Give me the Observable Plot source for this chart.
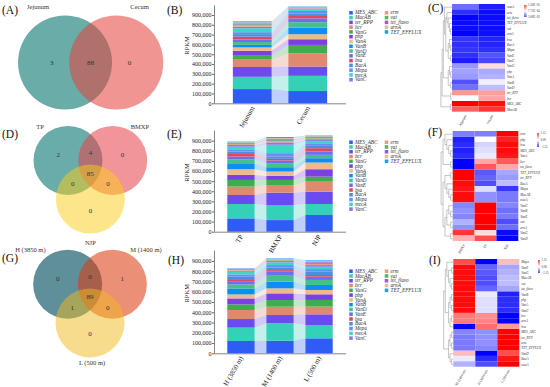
<!DOCTYPE html>
<html><head><meta charset="utf-8">
<script src="https://cdn.jsdelivr.net/npm/d3@7"></script>
<script src="https://cdn.jsdelivr.net/npm/@observablehq/plot@0.6"></script>
<style>
html,body{margin:0;padding:0;background:#fff;}
#fig{position:relative;width:550px;height:387px;overflow:hidden;font-family:'Liberation Serif','Times New Roman',Times,serif;background:#fff;}
.pane{position:absolute;}
.pane svg{overflow:visible;display:block;}
.letter{position:absolute;font-size:11.5px;line-height:1;color:#111;white-space:nowrap;}
</style></head><body><div id="fig"></div><script>
const SERIF = "'Liberation Serif','Times New Roman',Times,serif";

// ---------- data ----------
const genes = ["MES_ABC","MacAB","ter_RPP","bcr","VanG","pbp","VanA","VanB","VanD","VanE","bsa","BacA","Mepa","mecA","VanC","erm","vat","tet_flavo","arnA","TET_EFFLUX"];
const geneColors = ["#2F5CF5","#34D1B8","#6A4BEF","#E0896F","#3DAE4B","#7B3FE4","#EFB98C","#0C8EF2","#45C08A","#6A70EE","#DF4861","#4B8FE0","#6A8CF5","#3ED6C5","#8876EE","#EE9B83","#52B560","#9A58E6","#E8BE93","#1E9FF2"];

// (A) Venn
const vennA_sets = ["Jejunum","Cecum"];
const vennA_counts = {"10":3, "11":88, "01":0};
// (D) Venn
const vennD_sets = ["TP","BMXP","NJP"];
const vennD_counts = {"100":2, "110":4, "010":0, "111":85, "101":0, "011":0, "001":0};
// (G) Venn
const vennG_sets = ["H (3850 m)","M (1400 m)","L (500 m)"];
const vennG_counts = {"100":0, "110":0, "010":1, "111":89, "101":1, "011":0, "001":0};

// (B) stacked RPKM
const samplesB = ["Jejunum","Cecum"];
const rpkmJejunum = [145000,125000,100000,75000,40000,50000,35000,25000,30000,25000,30000,25000,20000,40000,15000,15000,10000,10000,10000,10000];
const rpkmCecum   = [125000,155000,95000,135000,85000,58000,51000,68000,54000,40000,24000,27000,24000,17000,8000,5000,4000,4000,3000,4000];
// (E)
const samplesE = ["TP","BMXP","NJP"];
const rpkmTP   = [132000,142000,89000,83000,66000,50000,56000,59000,40000,26000,26000,23000,23000,26000,17000,8000,6000,6000,6000,7000];
const rpkmBMXP = [115000,149000,122000,76000,50000,40000,43000,43000,40000,26000,17000,23000,33000,83000,23000,12000,10000,10000,10000,11000];
const rpkmNJP  = [165000,109000,122000,99000,50000,73000,66000,43000,33000,33000,33000,23000,26000,23000,17000,8000,7000,7000,7000,7000];
// (H)
const samplesH = ["H (3850 m)","M (1400 m)","L (500 m)"];
const rpkmH = [120000,130000,84000,88000,55000,58000,39000,58000,39000,26000,26000,23000,23000,26000,10000,6000,5000,5000,5000,4000];
const rpkmM = [123000,169000,81000,81000,65000,65000,49000,65000,58000,39000,16000,26000,23000,26000,13000,6000,5000,5000,6000,5000];
const rpkmL = [146000,130000,104000,75000,65000,55000,42000,49000,49000,32000,16000,32000,26000,23000,16000,10000,9000,9000,9000,9000];

// (C) heatmap (RPKM), gene order as `genes`
const heatC_columns = ["Jejunum","Cecum"];
const heatC_Jejunum = [150000,123000,107000,78000,48000,51000,49000,28000,37000,18000,20000,19000,20000,36000,13000,18000,8000,6000,5000,8000];
const heatC_Cecum   = [146000,135000,105000,103000,88000,53000,56000,73000,59000,29000,15000,15000,18000,14000,25000,8000,8000,8000,9000,9000];
const dendroC = [[[["mecA",[["erm",["tet_flavo",["TET_EFFLUX",["vat","arnA"]]]],[["bsa",["BacA","Mepa"]],["VanE","VanC"]]]],[["VanG",["pbp","VanA"]],["VanB","VanD"]]],["ter_RPP","bcr"]],["MES_ABC","MacAB"]];

// (F) heatmap (row z-score)
const heatF_columns = ["BMXP","TP","NJP"];
const heatF_BMXP = [-1.0,1.1,1.15,-1.15,0.9,-1.0,-0.95,-0.5,0.35,-0.55,-0.95,1.1,1.05,1.1,-0.55,-0.58,-0.35,-1.15,-0.5,1.15];
const heatF_TP   = [-0.15,-0.5,-0.7,0.4,0.15,0.0,-0.1,1.15,0.8,1.15,-0.2,-0.8,-0.15,-0.5,1.15,-0.58,1.15,0.75,1.15,-0.75];
const heatF_NJP  = [1.1,-0.6,-0.45,0.75,-1.1,1.0,1.05,-0.65,-1.15,-0.6,1.1,-0.3,-0.9,-0.6,-0.55,1.15,-0.8,0.4,-0.65,-0.4];
const dendroF = [[["erm",["pbp",["bsa",["MES_ABC","VanA"]]]],["bcr","tet_flavo"]],[[["TET_EFFLUX","ter_RPP"],["BacA",["Mepa",["MacAB","mecA"]]]],[[["VanC",["VanB","VanE"]],["vat","arnA"]],["VanG","VanD"]]]];

// (I) heatmap (row z-score)
const heatI_columns = ["M (1400 m)","H (3850 m)","L (500 m)"];
const heatI_M = [-0.55,1.1,-0.6,0.6,1.1,1.1,1.1,1.1,0.3,1.1,-1.15,-0.1,0.8,-0.35,1.1,-0.6,1.1,1.1,0.6,-0.6];
const heatI_H = [-0.5,-0.8,-0.5,0.5,-0.75,-0.15,-0.15,-0.1,-1.15,-0.7,0.65,-0.95,-1.15,-0.8,-0.15,-0.5,-0.8,-0.7,0.55,-0.55];
const heatI_L = [1.15,-0.3,1.15,-1.15,-0.35,-0.95,-0.95,-1.0,0.8,-0.4,0.45,1.05,0.3,1.15,-0.95,1.15,-0.3,-0.4,-1.15,1.15];
const dendroI = [[["Mepa",[["VanE","VanG"],["MacAB",["vat","tet_flavo"]]]],[[["VanB","pbp"],["VanA","VanC"]],[["bcr","arnA"],"bsa"]]],[[["MES_ABC","ter_RPP"],["erm","TET_EFFLUX"]],["VanD",["BacA","mecA"]]]];

const zLabels = [1.15, 0, -1.15];

// ---------- helpers ----------
const fig = document.getElementById("fig");
function place(node, left, top, w) {
  const d = document.createElement("div");
  d.className = "pane";
  d.style.left = left + "px"; d.style.top = top + "px";
  if (w) d.style.width = w + "px";
  d.appendChild(node); fig.appendChild(d);
}
function letter(t, left, top) {
  const d = document.createElement("div");
  d.className = "letter"; d.textContent = t;
  d.style.left = left + "px"; d.style.top = top + "px";
  fig.appendChild(d);
}
const baseStyle = {fontFamily: SERIF, background: "transparent", overflow: "visible", color: "#222"};

// ---------- Venn ----------
function vennPanel(o) {
  const n = o.sets.length;
  const centers = n === 2 ? [[-o.d, 0], [o.d, 0]]
    : [210, 330, 90].map(a => [o.d * Math.cos(a * Math.PI / 180), o.d * Math.sin(a * Math.PI / 180)]);
  const acc = new Map();
  for (let x = -2.2; x <= 2.2; x += 0.015) for (let y = -2.2; y <= 2.2; y += 0.015) {
    const key = centers.map(([cx, cy]) => ((x - cx) ** 2 + (y - cy) ** 2 <= 1 ? "1" : "0")).join("");
    if (!key.includes("1")) continue;
    const a = acc.get(key) || {sx: 0, sy: 0, n: 0};
    a.sx += x; a.sy += y; a.n++; acc.set(key, a);
  }
  const regions = Object.entries(o.counts).map(([k, v]) => {
    const a = acc.get(k); return {x: a.sx / a.n, y: a.sy / a.n, v};
  });
  const marks = [];
  o.sets.forEach((s, i) => {
    marks.push(Plot.dot([s], {x: () => centers[i][0], y: () => centers[i][1], r: o.r, fill: o.colors[i], fillOpacity: o.opac[i], stroke: "none"}));
  });
  marks.push(Plot.text(regions, {x: "x", y: "y", text: d => String(d.v), fontSize: 7, fill: "#333"}));
  o.sets.forEach((s, i) => {
    const [ox, oy, anchor] = o.labelOff[i];
    marks.push(Plot.text([s], {x: () => centers[i][0] + ox, y: () => centers[i][1] + oy, text: d => d, textAnchor: anchor, fontSize: 6.5, fill: "#333"}));
  });
  const p = Plot.plot({
    width: o.width, height: o.height, margin: 0,
    x: {domain: [(0 - o.cx) / o.r, (o.width - o.cx) / o.r], range: [0, o.width], axis: null},
    y: {domain: [(0 - o.cy) / o.r, (o.height - o.cy) / o.r], range: [0, o.height], axis: null},
    style: baseStyle,
    marks
  });
  place(p, o.left, o.top, o.width);
}

// ---------- stacked bars with flows ----------
function barPanel(samples, series, left, top, height, y0px, y1Mpx) {
  const width = 180, mL = 44, mR = 4;
  const n = samples.length, pad = 0.69, half = 0.35;
  const stacks = series.map(vals => { let c = 0; return vals.map(v => { const lo = c; c += v; return [lo, c]; }); });
  const rows = [], flows = [];
  samples.forEach((s, i) => genes.forEach((g, k) => rows.push({i, gene: g, lo: stacks[i][k][0], hi: stacks[i][k][1]})));
  for (let i = 0; i < n - 1; i++) genes.forEach((g, k) => {
    const id = g + "-" + i;
    flows.push({id, gene: g, x: i + half, lo: stacks[i][k][0], hi: stacks[i][k][1]});
    flows.push({id, gene: g, x: i + 1 - half, lo: stacks[i + 1][k][0], hi: stacks[i + 1][k][1]});
  });
  const x0 = -pad, x1 = n - 1 + pad;
  const p = Plot.plot({
    width, height, marginLeft: mL, marginRight: mR, marginTop: y1Mpx - top, marginBottom: top + height - y0px,
    x: {domain: [x0, x1], axis: null},
    y: {domain: [0, 1e6], axis: null},
    color: {domain: genes, range: geneColors},
    style: baseStyle,
    marks: [
      Plot.area(flows, {x1: "x", y1: "lo", y2: "hi", z: "id", fill: "gene", fillOpacity: 0.3}),
      Plot.rect(rows, {x1: d => d.i - half, x2: d => d.i + half, y1: "lo", y2: "hi", fill: "gene"}),
      Plot.ruleY([0], {x1: x0, x2: x1, stroke: "#666", strokeWidth: 0.8}),
      Plot.ruleX([x0], {y1: 0, y2: 1e6, stroke: "#666", strokeWidth: 0.8}),
      Plot.axisY({ticks: d3.range(0, 950000, 100000), tickFormat: d3.format(","), tickSize: 2, tickPadding: 1, fontSize: 6, label: null, stroke: "#666"}),
      Plot.axisX({ticks: d3.range(n), tickFormat: i => samples[i], tickRotate: -60, tickSize: 0, tickPadding: 3, fontSize: 7, label: null}),
      Plot.text(["RPKM"], {frameAnchor: "left", rotate: -90, dx: -28, fontSize: 6.5, fill: "#222"})
    ]
  });
  place(p, left, top, width);
}

// ---------- bar legend ----------
function legendPanel(left, top, firstRowY) {
  const items = genes.map((g, k) => ({g, col: k < 15 ? 0 : 1, row: k < 15 ? k : k - 15}));
  const p = Plot.plot({
    width: 80, height: 85, margin: 0,
    x: {domain: [0, 1], range: [5.5, 41], axis: null},
    y: {domain: [0, 14], range: [firstRowY - top, firstRowY - top + 14 * 4.78], axis: null},
    color: {domain: genes, range: geneColors},
    style: baseStyle,
    marks: [
      Plot.dot(items, {x: "col", y: "row", symbol: "square", r: 2, fill: "g"}),
      Plot.text(items, {x: "col", y: "row", text: "g", dx: 4, textAnchor: "start", fontSize: 5.2, fontStyle: "italic", fill: "#333"})
    ]
  });
  place(p, left, top, 80);
}

// ---------- heatmaps ----------
function leaves(t) { return typeof t === "string" ? [t] : t.flatMap(leaves); }
function heatColor(domain) {
  return {type: "linear", domain, range: ["#0000ff", "#ffffff", "#ff0000"], clamp: true};
}
function heatPanel(o) {
  const order = leaves(o.tree);
  const rowOf = new Map(order.map((g, i) => [g, i]));
  const nc = o.columns.length, nr = order.length;
  const cells = [];
  o.columns.forEach((c, j) => genes.forEach((g, k) => cells.push({col: j, row: rowOf.get(g), v: o.values[j][k]})));
  const colW = (o.cellR - o.cellL) / nc;
  const span = o.dendroPx / colW, gap = 0.6 / colW;
  const links = [];
  function walk(t) {
    if (typeof t === "string") return {y: rowOf.get(t) + 0.5, h: 0};
    const kids = t.map(walk);
    const node = {y: (kids[0].y + kids[kids.length - 1].y) / 2, h: 1 + d3.max(kids, k => k.h)};
    kids.forEach(k => links.push({p: node, c: k}));
    return node;
  }
  const root = walk(o.tree);
  const H = root.h;
  const hx = h => -gap - span * h / H;
  const p = Plot.plot({
    width: o.width, height: o.height,
    marginLeft: o.cellL - o.left, marginRight: o.left + o.width - o.cellR,
    marginTop: o.cellT - o.top, marginBottom: o.top + o.height - o.cellB,
    x: {domain: [0, nc], axis: null},
    y: {domain: [0, nr], reverse: true, axis: null},
    color: heatColor(o.domain),
    style: baseStyle,
    marks: [
      Plot.rect(cells, {x1: "col", x2: d => d.col + 1, y1: "row", y2: d => d.row + 1, fill: "v"}),
      Plot.link(links, {x1: d => hx(d.p.h), y1: d => d.p.y, x2: d => hx(d.c.h), y2: d => d.c.y, curve: "step-before", stroke: "#8c8c8c", strokeWidth: 0.5}),
      Plot.text(order, {x: () => nc, y: (d, i) => i + 0.5, text: d => d, textAnchor: "start", dx: 1.5, fontSize: 3.3, fontStyle: "italic", fill: "#333"}),
      Plot.text(o.columns, {x: (d, i) => i + 0.5, y: () => nr, text: d => d, rotate: -60, textAnchor: "end", dy: 3, fontSize: 3.6, fill: "#333"})
    ]
  });
  place(p, o.left, o.top, o.width);
}
function colorLegend(o) {
  const [lo, mid, hi] = o.domain;
  const N = 40, step = (hi - lo) / N;
  const steps = d3.range(N).map(i => lo + step * i);
  const p = Plot.plot({
    width: o.w, height: o.h, marginLeft: 0, marginRight: o.w - o.barW, marginTop: 1, marginBottom: 1,
    x: {domain: [0, 1], axis: null},
    y: {domain: [lo, hi], axis: null},
    color: heatColor(o.domain),
    style: baseStyle,
    marks: [
      Plot.rect(steps, {x1: () => 0, x2: () => 1, y1: d => d, y2: d => d + step, fill: d => d + step / 2}),
      Plot.text(o.labels, {x: () => 1, y: d => d, text: o.fmt, dx: 1, textAnchor: "start", fontSize: 3, fill: "#333"})
    ]
  });
  place(p, o.left, o.top, o.w);
}
function expFmt(v) {
  const [m, e] = v.toExponential(2).split("e");
  const sign = e[0] === "-" ? "-" : "+";
  return m + "E" + sign + e.replace(/[+-]/, "").padStart(2, "0");
}

// ---------- build ----------
vennPanel({left: 0, top: 0, width: 165, height: 125, cx: 90.15, cy: 62, r: 47, d: 0.545,
  sets: vennA_sets, colors: ["#6aaca8", "#e5453e"], opac: [1, 0.57], counts: vennA_counts,
  labelOff: [[-0.34, -1.19, "end"], [0.30, -1.19, "start"]]});
vennPanel({left: 0, top: 125, width: 165, height: 121, cx: 89.85, cy: 47.8, r: 34.5, d: 0.748,
  sets: vennD_sets, colors: ["#6aaca9", "#e8454c", "#fbcd15"], opac: [1, 0.57, 0.5], counts: vennD_counts,
  labelOff: [[-0.70, -0.98, "end"], [0.52, -0.98, "start"], [0, 1.28, "middle"]]});
vennPanel({left: 0, top: 246, width: 165, height: 141, cx: 89.5, cy: 50.6, r: 34.5, d: 0.748,
  sets: vennG_sets, colors: ["#5f8f99", "#dc3a10", "#efb91d"], opac: [1, 0.57, 0.5], counts: vennG_counts,
  labelOff: [[-0.64, -1.0, "end"], [0.52, -1.0, "start"], [0.06, 1.17, "middle"]]});

barPanel(samplesB, [rpkmJejunum, rpkmCecum], 170, 0, 130, 103.3, 5.2);
barPanel(samplesE, [rpkmTP, rpkmBMXP, rpkmNJP], 170, 125, 130, 231.7, 130.6);
barPanel(samplesH, [rpkmH, rpkmM, rpkmL], 170, 246, 141, 353.3, 250.7);

legendPanel(345, 0, 12.3);
legendPanel(345, 125, 141.7);
legendPanel(345, 246, 270.7);

const allC = heatC_Jejunum.concat(heatC_Cecum);
const loC = d3.min(allC), hiC = d3.max(allC);
const domC = [loC, (loC + hiC) / 2, hiC];
heatPanel({left: 420, top: 0, width: 130, height: 129, cellL: 452, cellR: 505, cellT: 4, cellB: 111.7, dendroPx: 11,
  columns: heatC_columns, values: [heatC_Jejunum, heatC_Cecum], tree: dendroC, domain: domC});
heatPanel({left: 420, top: 127, width: 130, height: 128, cellL: 452.7, cellR: 518.3, cellT: 131, cellB: 241, dendroPx: 11.5,
  columns: heatF_columns, values: [heatF_BMXP, heatF_TP, heatF_NJP], tree: dendroF, domain: [-1.15, 0, 1.15]});
heatPanel({left: 420, top: 255, width: 130, height: 132, cellL: 453.3, cellR: 519.3, cellT: 259, cellB: 366.7, dendroPx: 9.5,
  columns: heatI_columns, values: [heatI_M, heatI_H, heatI_L], tree: dendroI, domain: [-1.15, 0, 1.15]});

colorLegend({left: 524, top: 4, w: 26, h: 14, barW: 2.5, domain: domC, labels: [domC[2], domC[1], domC[0]], fmt: expFmt});
colorLegend({left: 536.5, top: 132, w: 14, h: 16, barW: 2, domain: [-1.15, 0, 1.15], labels: zLabels, fmt: d3.format(".2f")});
colorLegend({left: 538, top: 259, w: 12, h: 15, barW: 2, domain: [-1.15, 0, 1.15], labels: zLabels, fmt: d3.format(".2f")});

letter("(A)", 2, 5); letter("(B)", 167, 5); letter("(C)", 428, 3);
letter("(D)", 2, 129); letter("(E)", 167, 129); letter("(F)", 428, 127);
letter("(G)", 2, 253); letter("(H)", 168, 255); letter("(I)", 429, 255);
</script></body></html>
